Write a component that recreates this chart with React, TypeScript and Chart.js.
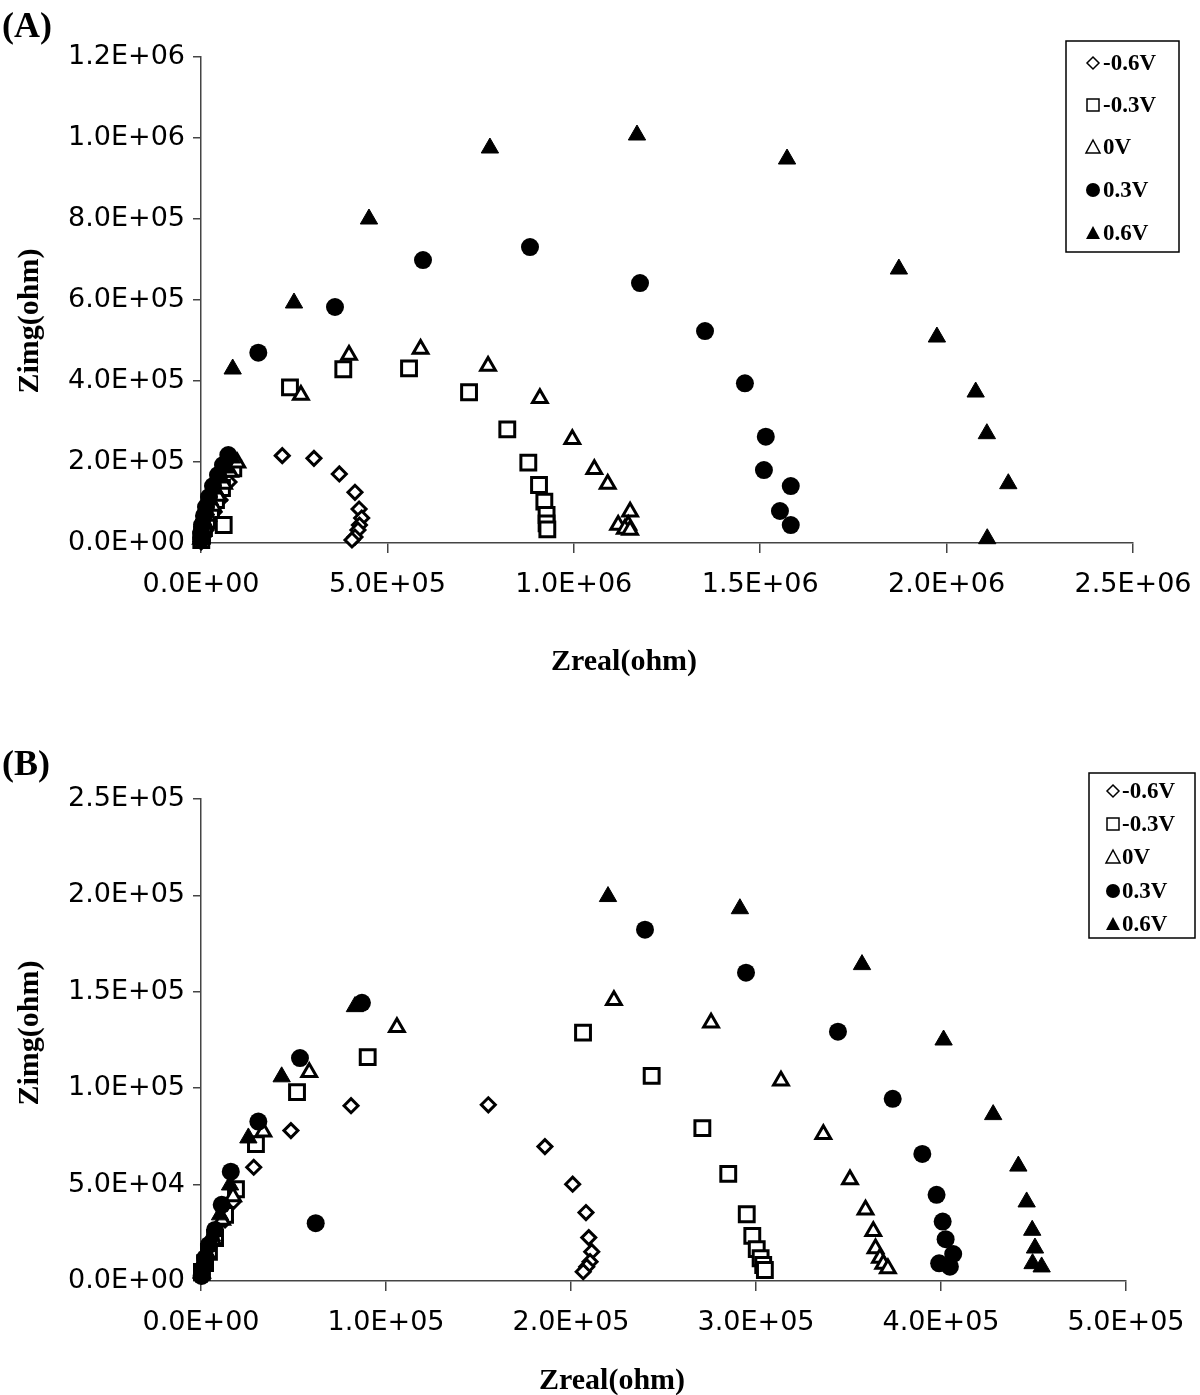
import React, { useEffect, useRef } from 'react';
import { Chart, registerables } from 'chart.js';

Chart.register(...registerables);

// ---------- Data ----------
const SERIES_LABELS = ['-0.6V', '-0.3V', '0V', '0.3V', '0.6V'];

// Panel (A): [Zreal, Zimg] in ohm
const A_NEG06: [number, number][] = [
  [500, 2500], [2700, 7400], [5400, 17300], [13400, 32100], [21500, 51800], [34900, 76500],
  [51000, 106200], [75000, 150600], [218000, 215600], [303000, 209100], [371000, 170400],
  [413000, 125200], [424000, 83900], [431000, 61700], [425000, 44400], [421000, 32100],
  [413000, 14800], [405000, 7400],
];
const A_NEG03: [number, number][] = [
  [800, 7400], [2700, 19800], [8000, 37000], [16100, 56800], [26800, 76500], [40200, 106200],
  [56300, 135800], [86600, 184400], [60900, 44400], [238700, 384400], [381700, 428900],
  [558000, 431300], [719000, 372100], [821600, 280700], [878000, 198300], [906700, 143200],
  [921000, 102000], [927000, 69100], [927000, 48600], [929000, 33800],
];
const A_0V: [number, number][] = [
  [500, 9900], [2700, 27200], [10700, 46900], [18800, 66700], [32200, 91400], [45600, 116000],
  [61700, 145700], [77800, 175300], [97400, 198300], [268000, 365400], [397000, 464200],
  [589000, 479000], [770000, 437000], [909000, 357300], [996000, 256000], [1055000, 182000],
  [1091000, 145700], [1151000, 77300], [1146000, 44400], [1119000, 44400], [1137000, 34600],
  [1151000, 32100],
];
const A_03V: [number, number][] = [
  [300, 9900], [500, 24700], [2700, 44400], [8000, 66700], [13400, 88900], [21500, 113600],
  [32200, 140700], [45600, 167900], [59000, 192600], [73200, 217300], [153700, 469900],
  [359400, 582700], [595500, 698700], [882500, 730800], [1177600, 641900], [1352000, 523400],
  [1459000, 394300], [1515000, 262500], [1510000, 180200], [1582000, 140700], [1553000, 79000],
  [1582000, 44400],
];
const A_06V: [number, number][] = [
  [500, 14800], [2700, 34600], [5400, 56800], [13400, 81500], [24100, 106200], [37500, 133300],
  [51000, 160500], [67100, 185200], [83200, 209900], [85000, 429600], [249500, 592600],
  [450600, 800000], [775000, 975300], [1169500, 1007400], [1572000, 948100], [1872000, 676500],
  [1974000, 508600], [2078000, 372800], [2108000, 269900], [2165500, 146400], [2109000, 10600],
];

// Panel (B)
const B_NEG06: [number, number][] = [
  [500, 3600], [1600, 7800], [3800, 13500], [7600, 21300], [13000, 31700], [17500, 41200],
  [28500, 59000], [48600, 78000], [81100, 90900], [155300, 91400], [185900, 69700],
  [200900, 50200], [208100, 35500], [209600, 22500], [211200, 15200], [210300, 10000],
  [208500, 7400], [206600, 4800],
];
const B_NEG03: [number, number][] = [
  [500, 4700], [2200, 9300], [4300, 15100], [7600, 22300], [13000, 34300], [18900, 47600],
  [29700, 71000], [51900, 98000], [90100, 116100], [206500, 128800], [243600, 106400],
  [271000, 79300], [285000, 55600], [295000, 34600], [298000, 23400], [300400, 16500],
  [302500, 11800], [303900, 8300], [304800, 5700],
];
const B_0V: [number, number][] = [
  [500, 4200], [1600, 8300], [3200, 14000], [6500, 21300], [11400, 31700], [17300, 43800],
  [33700, 77400], [58500, 108300], [105900, 131600], [223200, 145600], [275700, 134000],
  [313500, 103800], [336400, 76100], [350800, 52700], [359200, 36900], [363400, 25800],
  [364600, 16800], [367000, 11900], [368800, 8800], [371300, 6500],
];
const B_03V: [number, number][] = [
  [300, 2600], [1100, 6700], [2200, 11900], [4300, 18700], [7600, 26500], [11200, 39500],
  [16100, 56700], [31000, 82700], [53500, 115600], [87000, 144300], [62000, 30000],
  [240000, 182200], [294600, 159900], [344300, 129300], [373900, 94500], [389900, 65900],
  [397600, 44700], [400900, 30800], [402500, 21700], [406600, 14000], [399000, 9200],
  [404800, 7400],
];
const B_06V: [number, number][] = [
  [300, 4200], [1100, 8800], [2700, 15100], [5900, 23400], [10300, 34300], [15700, 49800],
  [25600, 74200], [43600, 105900], [83200, 142300], [220000, 199400], [291300, 193100],
  [357300, 164100], [401400, 125000], [428200, 86300], [441800, 59600], [446300, 41000],
  [449300, 26300], [450800, 17100], [449500, 9000], [454400, 7300],
];

const A_X_RANGE = [0, 2500000, 500000];
const A_Y_RANGE = [0, 1200000, 200000];
const B_X_RANGE = [0, 500000, 100000];
const B_Y_RANGE = [0, 250000, 50000];

const X_TITLE = 'Zreal(ohm)';
const Y_TITLE = 'Zimg(ohm)';

// ---------- Styles ----------
const STYLES = [
  { pointStyle: 'rectRot', radius: 7, fill: '#ffffff', borderWidth: 3, legend: 'diamond', legendFill: false },
  { pointStyle: 'rect', radius: 10.5, fill: '#ffffff', borderWidth: 3, legend: 'square', legendFill: false },
  { pointStyle: 'triangle', radius: 8.5, fill: '#ffffff', borderWidth: 3, legend: 'triangle', legendFill: false },
  { pointStyle: 'circle', radius: 9, fill: '#000000', borderWidth: 0, legend: 'circle', legendFill: true },
  { pointStyle: 'triangle', radius: 10, fill: '#000000', borderWidth: 1, legend: 'triangle', legendFill: true },
];

const AXIS_COLOR = '#444444';
const Y_TICK_FONT = { family: 'DejaVu Sans', size: 27 };
const X_TICK_FONT = { family: 'DejaVu Sans', size: 27, lineHeight: 2.37 };
const TITLE_FONT = 'bold 30px "Liberation Serif", "Times New Roman", serif';
const LEGEND_FONT = 'bold 23px "Liberation Serif", "Times New Roman", serif';

function fmtSci(v: number): string {
  const [m, e] = v.toExponential(1).split('e');
  const n = parseInt(e, 10);
  return `${m}E${n < 0 ? '-' : '+'}${String(Math.abs(n)).padStart(2, '0')}`;
}

function drawSymbol(ctx: CanvasRenderingContext2D, kind: string, x: number, y: number, filled: boolean) {
  ctx.beginPath();
  if (kind === 'diamond') {
    const s = 6;
    ctx.moveTo(x, y - s);
    ctx.lineTo(x + s, y);
    ctx.lineTo(x, y + s);
    ctx.lineTo(x - s, y);
    ctx.closePath();
  } else if (kind === 'square') {
    const s = 6;
    ctx.rect(x - s, y - s, 2 * s, 2 * s);
  } else if (kind === 'triangle') {
    ctx.moveTo(x, y - 7);
    ctx.lineTo(x + 7, y + 6);
    ctx.lineTo(x - 7, y + 6);
    ctx.closePath();
  } else {
    ctx.arc(x, y, 7, 0, Math.PI * 2);
  }
  if (filled) {
    ctx.fillStyle = '#000';
    ctx.fill();
  } else {
    ctx.fillStyle = '#fff';
    ctx.fill();
    ctx.stroke();
  }
}

function makeLegend(cfg: any) {
  return {
    id: 'boxLegend',
    afterDraw(chart: any) {
      const ctx: CanvasRenderingContext2D = chart.ctx;
      ctx.save();
      ctx.lineWidth = 1.5;
      ctx.strokeStyle = '#000';
      ctx.fillStyle = '#fff';
      ctx.fillRect(cfg.x, cfg.y, cfg.w, cfg.h);
      ctx.strokeRect(cfg.x, cfg.y, cfg.w, cfg.h);
      chart.data.datasets.forEach((ds: any, i: number) => {
        const cy = cfg.rows[i];
        ctx.lineWidth = 1.5;
        ctx.strokeStyle = '#000';
        drawSymbol(ctx, STYLES[i].legend, cfg.symX, cy, STYLES[i].legendFill);
        ctx.font = LEGEND_FONT;
        ctx.fillStyle = '#000';
        ctx.textAlign = 'left';
        ctx.textBaseline = 'middle';
        ctx.fillText(ds.label, cfg.textX, cy + 1);
      });
      ctx.restore();
    },
  };
}

function makeTitles(cfg: any) {
  return {
    id: 'axisTitles',
    afterDraw(chart: any) {
      const ctx: CanvasRenderingContext2D = chart.ctx;
      ctx.save();
      ctx.font = TITLE_FONT;
      ctx.fillStyle = '#000';
      ctx.textAlign = 'center';
      ctx.textBaseline = 'middle';
      ctx.fillText(X_TITLE, cfg.xTitle[0], cfg.xTitle[1]);
      ctx.translate(cfg.yTitle[0], cfg.yTitle[1]);
      ctx.rotate(-Math.PI / 2);
      ctx.fillText(Y_TITLE, 0, 0);
      ctx.restore();
    },
  };
}

function buildConfig(p: any): any {
  return {
    type: 'scatter',
    data: {
      datasets: p.series.map((pts: [number, number][], i: number) => ({
        label: SERIES_LABELS[i],
        data: pts.map(([x, y]) => ({ x, y })),
        pointStyle: STYLES[i].pointStyle,
        pointRadius: STYLES[i].radius,
        pointBackgroundColor: STYLES[i].fill,
        pointBorderColor: '#000',
        pointBorderWidth: STYLES[i].borderWidth,
        showLine: false,
        clip: false,
        order: 4 - i,
      })),
    },
    options: {
      animation: false,
      responsive: false,
      maintainAspectRatio: false,
      devicePixelRatio: 1,
      events: [],
      layout: { padding: p.padding },
      plugins: { legend: { display: false }, tooltip: { enabled: false }, title: { display: false } },
      scales: {
        x: {
          type: 'linear',
          position: 'bottom',
          min: p.xRange[0],
          max: p.xRange[1],
          afterFit: (s: any) => { s.height = p.xAxisH; },
          ticks: {
            stepSize: p.xRange[2],
            callback: (v: any) => fmtSci(Number(v)),
            font: X_TICK_FONT,
            color: '#000',
            padding: 0,
            maxRotation: 0,
            autoSkip: false,
          },
          grid: { display: true, drawOnChartArea: false, drawTicks: true, tickLength: 10, color: AXIS_COLOR, lineWidth: 1.5 },
          border: { display: true, color: AXIS_COLOR, width: 1.5 },
        },
        y: {
          type: 'linear',
          position: 'left',
          min: p.yRange[0],
          max: p.yRange[1],
          afterFit: (s: any) => { s.width = 201; },
          ticks: {
            stepSize: p.yRange[2],
            callback: (v: any) => fmtSci(Number(v)),
            font: Y_TICK_FONT,
            color: '#000',
            padding: 8,
            autoSkip: false,
          },
          grid: { display: true, drawOnChartArea: false, drawTicks: true, tickLength: 8, color: AXIS_COLOR, lineWidth: 1.5 },
          border: { display: true, color: AXIS_COLOR, width: 1.5 },
        },
      },
    },
    plugins: [makeLegend(p.legend), makeTitles(p.titles)],
  };
}

const panelLabelStyle: React.CSSProperties = {
  position: 'absolute',
  left: 2,
  font: 'bold 36px "Liberation Serif", "Times New Roman", serif',
  lineHeight: '36px',
  color: '#000',
  margin: 0,
};

export default function App() {
  const refA = useRef<HTMLCanvasElement>(null);
  const refB = useRef<HTMLCanvasElement>(null);

  useEffect(() => {
    const chartA = new Chart(refA.current as HTMLCanvasElement, buildConfig({
      series: [A_NEG06, A_NEG03, A_0V, A_03V, A_06V],
      xRange: A_X_RANGE,
      yRange: A_Y_RANGE,
      padding: { top: 57, right: 67, bottom: 0, left: 0 },
      xAxisH: 157,
      legend: { x: 1066, y: 41, w: 113, h: 211, rows: [63, 105, 147, 190, 233], symX: 1093, textX: 1103 },
      titles: { xTitle: [624, 662], yTitle: [30, 321] },
    }));
    const chartB = new Chart(refB.current as HTMLCanvasElement, buildConfig({
      series: [B_NEG06, B_NEG03, B_0V, B_03V, B_06V],
      xRange: B_X_RANGE,
      yRange: B_Y_RANGE,
      padding: { top: 99, right: 74, bottom: 0, left: 0 },
      xAxisH: 114,
      legend: { x: 1089, y: 73, w: 106, h: 165, rows: [91, 124, 157, 191, 224], symX: 1113, textX: 1122 },
      titles: { xTitle: [612, 681], yTitle: [30, 333] },
    }));
    return () => {
      chartA.destroy();
      chartB.destroy();
    };
  }, []);

  return (
    <div style={{ position: 'absolute', left: 0, top: 0, width: 1200, height: 1395, background: '#fff', overflow: 'hidden' }}>
      <canvas ref={refA} width={1200} height={700}
        style={{ position: 'absolute', left: 0, top: 0, width: 1200, height: 700, display: 'block' }} />
      <canvas ref={refB} width={1200} height={695}
        style={{ position: 'absolute', left: 0, top: 700, width: 1200, height: 695, display: 'block' }} />
      <div style={{ ...panelLabelStyle, top: 7 }}>(A)</div>
      <div style={{ ...panelLabelStyle, top: 745 }}>(B)</div>
    </div>
  );
}
